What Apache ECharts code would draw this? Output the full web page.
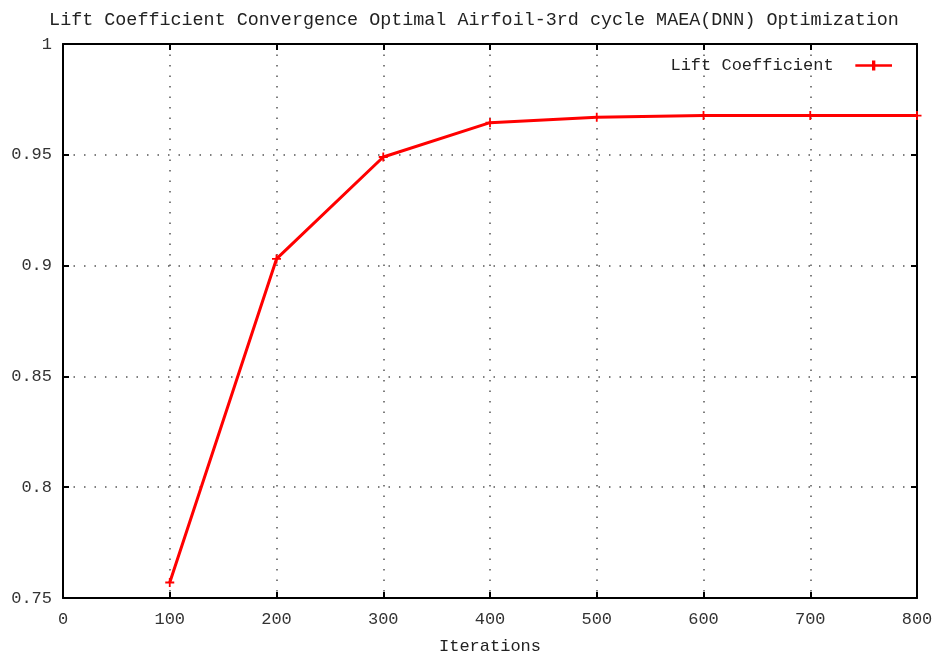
<!DOCTYPE html>
<html>
<head>
<meta charset="utf-8">
<script src="https://cdn.jsdelivr.net/npm/echarts@6/dist/echarts.min.js"></script>
<style>html,body{margin:0;padding:0;background:#fff;}#c{width:939px;height:660px;}</style>
</head>
<body>
<div id="c"></div>
<script>
const iterations = [100, 200, 300, 400, 500, 600, 700, 800];
const liftCoefficient = [0.757, 0.903, 0.949, 0.9645, 0.967, 0.9677, 0.9677, 0.9677];
const seriesName = 'Lift Coefficient';
const titleText = 'Lift Coefficient Convergence Optimal Airfoil-3rd cycle MAEA(DNN) Optimization';

const chart = echarts.init(document.getElementById('c'));
const plusSymbol = 'path://M4,0H6V4H10V6H6V10H4V6H0V4H4Z';
const gridLine = {show: true, lineStyle: {color: '#555', width: 1.5, type: [1.5, 9]}};
const frame = {show: true, onZero: false, lineStyle: {color: '#000', width: 2}};
const tickIn = {show: true, inside: true, length: 6, lineStyle: {color: '#000', width: 2}};
const labelStyle = {color: '#333', fontFamily: 'Liberation Mono', fontSize: 17};

chart.setOption({
  animation: false,
  backgroundColor: '#fff',
  title: {
    text: titleText, left: 469, textAlign: 'center', top: 6,
    textStyle: {fontFamily: 'Liberation Mono', fontSize: 18.4, fontWeight: 'normal', color: '#222'}
  },
  legend: {
    show: true, right: 42, top: 52, align: 'right', itemWidth: 50, itemHeight: 10, itemGap: 0,
    textStyle: {fontFamily: 'Liberation Mono', fontSize: 17, color: '#222', padding: [0, 10, 0, 0]},
    data: [{name: seriesName, icon: 'path://M0,4.2H22V5.8H0Z M10,2H12V8H10Z'}]
  },
  grid: {left: 63, right: 22, top: 44, bottom: 57},
  xAxis: [{
    type: 'value', min: 0, max: 800, interval: 100,
    name: 'Iterations', nameLocation: 'middle', nameGap: 40,
    nameTextStyle: {fontFamily: 'Liberation Mono', fontSize: 17, color: '#222'},
    axisLine: frame, axisTick: tickIn, axisLabel: Object.assign({margin: 13}, labelStyle),
    splitLine: gridLine
  }, {
    type: 'value', min: 0, max: 800, interval: 100, position: 'top',
    axisLine: frame, axisTick: tickIn, axisLabel: {show: false}, splitLine: {show: false}
  }],
  yAxis: [{
    type: 'value', min: 0.75, max: 1, interval: 0.05,
    axisLine: frame, axisTick: tickIn, axisLabel: Object.assign({margin: 11}, labelStyle),
    splitLine: gridLine
  }, {
    type: 'value', min: 0.75, max: 1, interval: 0.05, position: 'right',
    axisLine: frame, axisTick: tickIn, axisLabel: {show: false}, splitLine: {show: false}
  }],
  series: [{
    name: seriesName, type: 'line',
    data: iterations.map((x, i) => [x, liftCoefficient[i]]),
    lineStyle: {color: '#ff0000', width: 3},
    itemStyle: {color: '#ff0000'},
    symbol: plusSymbol, symbolSize: 9, showAllSymbol: true,
    clip: false
  }]
});
</script>
</body>
</html>
